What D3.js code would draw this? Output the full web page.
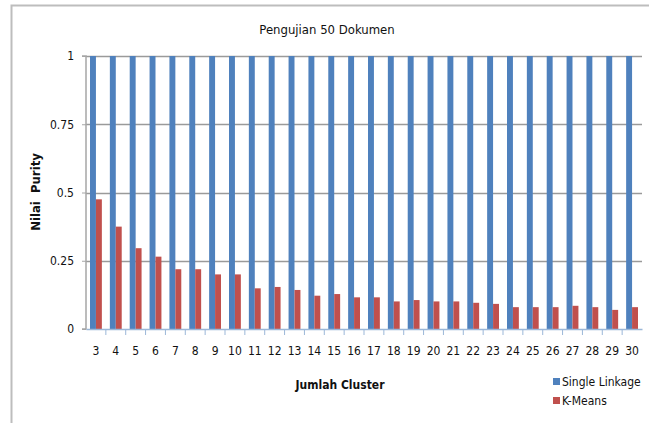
<!DOCTYPE html>
<html>
<head>
<meta charset="utf-8">
<script src="https://cdn.jsdelivr.net/npm/d3@7"></script>
<style>
	body { margin: 0; background: #fff; }
	text { font-family: "Liberation Sans Narrow", "DejaVu Sans Condensed", "Open Sans", sans-serif; fill: #111; }
</style>
</head>
<body>
<svg id="chart" width="649" height="423"></svg>
<script>
// values
var clusters = d3.range(3, 31);
var singleLinkage = [1, 1, 1, 1, 1, 1, 1, 1, 1, 1, 1, 1, 1, 1, 1, 1, 1, 1, 1, 1, 1, 1, 1, 1, 1, 1, 1, 1];
var kMeans = [0.475, 0.375, 0.296, 0.265, 0.219, 0.219, 0.2, 0.2, 0.149, 0.154, 0.143, 0.122, 0.128, 0.116,
	0.116, 0.101, 0.106, 0.101, 0.101, 0.096, 0.092, 0.08, 0.08, 0.08, 0.085, 0.08, 0.07, 0.08];
var yTicks = [0, 0.25, 0.5, 0.75, 1];
var seriesNames = ['Single Linkage', 'K-Means'];
var colors = ['#4f81bd', '#c0504d'];

var svg = d3.select('#chart');
var margin = {left: 86, right: 7, top: 56, bottom: 94};
var width = 649 - margin.left - margin.right,
	height = 423 - margin.top - margin.bottom;

// outer chart frame
svg.append('path')
	.attr('d', 'M11.5,423V5.5H649')
	.attr('fill', 'none')
	.attr('stroke', '#bdbdbd')
	.attr('stroke-width', 2);

var g = svg.append('g').attr('transform', 'translate(' + margin.left + ',' + margin.top + ')');

var x = d3.scaleBand().domain(clusters).range([0, width]);
var inner = d3.scaleBand().domain([0, 1]).range([4, x.bandwidth() - 4]);
var y = d3.scaleLinear().domain([0, 1]).range([height, 0]);

// gridlines
g.selectAll('.grid')
	.data(yTicks.slice(1))
	.enter()
	.append('line')
	.attr('x1', 0)
	.attr('x2', width)
	.attr('y1', function(d) { return Math.round(y(d)) + 0.5 })
	.attr('y2', function(d) { return Math.round(y(d)) + 0.5 })
	.attr('stroke', '#9a9a9a')
	.attr('stroke-width', 1.5);

// bars
var series = [singleLinkage, kMeans];
series.forEach(function(vals, s) {
	g.selectAll('.bar' + s)
		.data(vals)
		.enter()
		.append('rect')
		.attr('x', function(d, i) { return x(clusters[i]) + inner(s) })
		.attr('y', function(d) { return y(d) })
		.attr('width', inner.bandwidth())
		.attr('height', function(d) { return height - y(d) })
		.attr('fill', colors[s]);
});

// y axis
var yAxis = g.append('g').call(d3.axisLeft(y).tickValues(yTicks).tickSize(4).tickFormat(function(d) { return d3.format('')(d) }));
yAxis.select('.domain').attr('stroke', '#a6a6a6').attr('stroke-width', 1.5).attr('d', 'M-4,0H0V' + height + 'H-4');
yAxis.selectAll('.tick line').attr('stroke', '#a6a6a6');
yAxis.selectAll('text').attr('x', -12).style('font-size', '12px');

// x axis
var xAxis = g.append('g').attr('transform', 'translate(0,' + height + ')')
	.call(d3.axisBottom(x).tickSize(0));
xAxis.select('.domain').attr('stroke', '#9bb7d8').attr('stroke-width', 1.5);
xAxis.selectAll('.tick text').attr('y', 17).style('font-size', '12px');
xAxis.selectAll('.sep')
	.data(clusters.slice(1))
	.enter()
	.append('line')
	.attr('x1', function(d) { return x(d) })
	.attr('x2', function(d) { return x(d) })
	.attr('y1', 0)
	.attr('y2', 6)
	.attr('stroke', '#9bb7d8');

// titles
svg.append('text')
	.attr('x', 327).attr('y', 34)
	.attr('text-anchor', 'middle')
	.style('font-size', '13px')
	.text('Pengujian 50 Dokumen');

svg.append('text')
	.attr('transform', 'translate(40,192) rotate(-90)')
	.attr('text-anchor', 'middle')
	.style('font-size', '13px')
	.style('font-weight', 'bold')
	.style('white-space', 'pre')
	.text('Nilai  Purity');

svg.append('text')
	.attr('x', 340).attr('y', 389)
	.attr('text-anchor', 'middle')
	.style('font-size', '12px')
	.style('font-weight', 'bold')
	.text('Jumlah Cluster');

// legend
var legend = svg.selectAll('.legend')
	.data(seriesNames)
	.enter()
	.append('g')
	.attr('transform', function(d, i) { return 'translate(553,' + (378 + i * 19) + ')' });
legend.append('rect')
	.attr('width', 7).attr('height', 7)
	.attr('fill', function(d, i) { return colors[i] });
legend.append('text')
	.attr('x', 9).attr('y', 7.5)
	.style('font-size', '12px')
	.text(function(d) { return d });
</script>
</body>
</html>
